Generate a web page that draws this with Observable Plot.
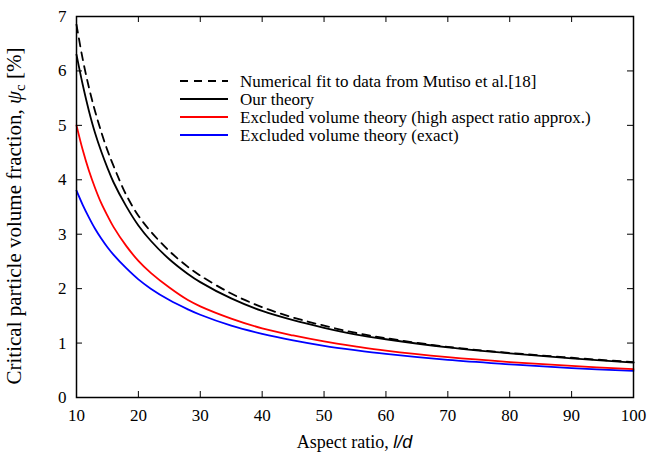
<!DOCTYPE html>
<html>
<head>
<meta charset="utf-8">
<script src="https://cdn.jsdelivr.net/npm/d3@7"></script>
<script src="https://cdn.jsdelivr.net/npm/@observablehq/plot@0.6"></script>
<style>
  html, body { margin: 0; padding: 0; background: #fff; }
  svg { font-family: "Liberation Serif", "Times New Roman", serif; }
</style>
</head>
<body>
<div id="chart"></div>
<script>
// ---- Data ----
const aspectRatio = [10, 11, 12, 13, 14, 15, 16, 18, 20, 22, 25, 28, 30, 35, 40, 45, 50, 55, 60, 70, 80, 90, 100];
const mutisoFit   = [6.85, 6.22, 5.70, 5.26, 4.88, 4.54, 4.25, 3.73, 3.34, 3.05, 2.69, 2.40, 2.24, 1.91, 1.66, 1.47, 1.32, 1.19, 1.09, 0.93, 0.82, 0.73, 0.65];
const ourTheory   = [6.30, 5.75, 5.27, 4.86, 4.52, 4.22, 3.95, 3.52, 3.16, 2.88, 2.54, 2.27, 2.12, 1.82, 1.59, 1.42, 1.28, 1.16, 1.07, 0.92, 0.81, 0.72, 0.64];
const exclHighAR  = [5.00, 4.55, 4.17, 3.85, 3.57, 3.34, 3.13, 2.79, 2.51, 2.29, 2.02, 1.79, 1.675, 1.45, 1.27, 1.14, 1.03, 0.94, 0.86, 0.74, 0.65, 0.58, 0.52];
const exclExact   = [3.80, 3.54, 3.31, 3.10, 2.92, 2.76, 2.62, 2.38, 2.17, 2.00, 1.79, 1.62, 1.52, 1.32, 1.17, 1.05, 0.95, 0.87, 0.80, 0.69, 0.61, 0.54, 0.49];
const seriesNames = [
  "Numerical fit to data from Mutiso et al.[18]",
  "Our theory",
  "Excluded volume theory (high aspect ratio approx.)",
  "Excluded volume theory (exact)"
];
const xTicks = [10, 20, 30, 40, 50, 60, 70, 80, 90, 100];
const yTicks = [0, 1, 2, 3, 4, 5, 6, 7];

// ---- Styles ----
const seriesValues = [mutisoFit, ourTheory, exclHighAR, exclExact];
const seriesColors = ["#000000", "#000000", "#ff0000", "#0000ff"];
const seriesDash = ["8,6", null, null, null];

const W = 666, H = 453;
const mL = 76, mR = 33, mT = 16, mB = 56;
const plotH = H - mT - mB;
const plotW = W - mL - mR;
const tickLen = 6;

const tables = seriesValues.map((vals, i) =>
  aspectRatio.map((x, j) => ({ x, y: vals[j], series: seriesNames[i] }))
);

const lineMarks = tables.map((t, i) =>
  Plot.line(t, {
    x: "x", y: "y",
    stroke: seriesColors[i],
    strokeWidth: 1.8,
    strokeDasharray: seriesDash[i] || undefined,
    curve: "catmull-rom"
  })
);

const chart = Plot.plot({
  width: W, height: H,
  marginLeft: mL, marginRight: mR, marginTop: mT, marginBottom: mB,
  style: { fontFamily: '"Liberation Serif", serif', fontSize: "17px", color: "#000", background: "#fff", overflow: "visible" },
  x: { domain: [10, 100], label: null },
  y: { domain: [0, 7], label: null },
  marks: [
    ...lineMarks.slice().reverse(),
    // inward ticks on all four sides
    Plot.ruleX(xTicks, { insetTop: plotH - tickLen, stroke: "#000", strokeWidth: 1 }),
    Plot.ruleX(xTicks, { insetBottom: plotH - tickLen, stroke: "#000", strokeWidth: 1 }),
    Plot.ruleY(yTicks, { insetRight: plotW - tickLen, stroke: "#000", strokeWidth: 1 }),
    Plot.ruleY(yTicks, { insetLeft: plotW - tickLen, stroke: "#000", strokeWidth: 1 }),
    Plot.axisX(xTicks, { tickSize: 0, tickPadding: 11, fontSize: 17, tickFormat: d3.format("d"), label: null }),
    Plot.axisY(yTicks, { tickSize: 0, tickPadding: 10, fontSize: 17, tickFormat: d3.format("d"), label: null }),
    Plot.frame({ stroke: "#000", strokeWidth: 1.5 })
  ]
});

const svg = d3.select(chart);

// y-axis title
const yl = svg.append("text")
  .attr("transform", `translate(21,216) rotate(-90)`)
  .attr("text-anchor", "middle")
  .attr("font-size", 21)
  .attr("fill", "#000");
yl.append("tspan").text("Critical particle volume fraction, ");
yl.append("tspan").attr("font-style", "italic").text("ψ");
yl.append("tspan").attr("font-size", 15).attr("dy", 4).text("c");
yl.append("tspan").attr("dy", -4).text(" [%]");

// x-axis title
const xl = svg.append("text")
  .attr("x", mL + plotW / 2).attr("y", 448)
  .attr("text-anchor", "middle")
  .attr("font-size", 18)
  .attr("fill", "#000");
xl.append("tspan").text("Aspect ratio, ");
xl.append("tspan").attr("font-family", '"Liberation Sans", sans-serif').attr("font-style", "italic").text("l/d");

// legend
const leg = svg.append("g").attr("text-anchor", "start");
seriesNames.forEach((name, i) => {
  const y = 81 + i * 18;
  leg.append("line")
    .attr("x1", 180).attr("x2", 228).attr("y1", y).attr("y2", y)
    .attr("stroke", seriesColors[i]).attr("stroke-width", 1.8)
    .attr("stroke-dasharray", seriesDash[i]);
  leg.append("text")
    .attr("x", 240).attr("y", y).attr("dy", "0.35em")
    .attr("font-size", 17).attr("fill", "#000")
    .text(name);
});

document.getElementById("chart").appendChild(chart);
</script>
</body>
</html>
